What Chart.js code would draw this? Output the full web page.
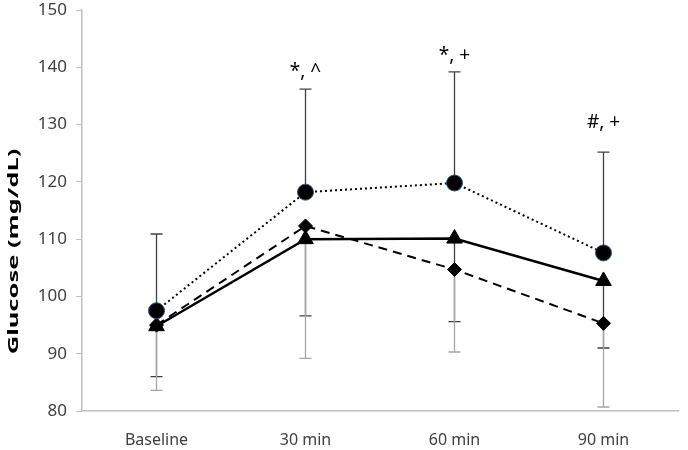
<!doctype html>
<html lang="en">
<head>
  <meta charset="utf-8">
  <title>Glucose</title>
  <script src="https://cdn.jsdelivr.net/npm/chart.js"></script>
  <style>
    html, body { margin: 0; padding: 0; background: #fff; }
    #wrap { width: 688px; height: 450px; }
  </style>
</head>
<body>
<div id="wrap"><canvas id="myChart" width="688" height="450"></canvas></div>
<script>
// datos
const categorias = ['Baseline', '30 min', '60 min', '90 min'];
const circulos = [97.5, 118.2, 119.8, 107.6];
const triangulos = [94.8, 110.0, 110.1, 102.7];
const rombos = [95.0, 112.3, 104.7, 95.3];
// desviaciones (barras de error)
const errCirculos = [13.4, 18.0, 19.4, 17.6];   // hacia arriba
const errTriangulos = [8.8, 13.4, 14.5, 11.7];  // hacia abajo
const errRombos = [11.4, 23.1, 14.4, 14.6];     // hacia abajo
// anotaciones
const notas = ['', '*, ^', '*, +', '#, +'];
const notasY = [null, 139.2, 142.1, 130.4];
const ticksY = [80, 90, 100, 110, 120, 130, 140, 150];
const tituloY = 'Glucose (mg/dL)';

const fuente = '"Noto Sans", "Open Sans", sans-serif';

const barrasError = {
  id: 'barrasError',
  beforeDatasetsDraw(chart) {
    const { ctx, scales: { x, y } } = chart;
    const dibujar = (medias, errs, signo, color) => {
      ctx.save();
      ctx.strokeStyle = color;
      ctx.lineWidth = 1.3;
      medias.forEach((m, i) => {
        const px = x.getPixelForValue(i);
        const y0 = y.getPixelForValue(m);
        const y1 = y.getPixelForValue(m + signo * errs[i]);
        ctx.beginPath();
        ctx.moveTo(px, y0);
        ctx.lineTo(px, y1);
        ctx.moveTo(px - 6, y1);
        ctx.lineTo(px + 6, y1);
        ctx.stroke();
      });
      ctx.restore();
    };
    dibujar(circulos, errCirculos, 1, '#404040');
    dibujar(triangulos, errTriangulos, -1, '#404040');
    dibujar(rombos, errRombos, -1, '#a6a6a6');
  },
  afterDatasetsDraw(chart) {
    const { ctx, scales: { x, y } } = chart;
    ctx.save();
    ctx.fillStyle = '#000';
    ctx.font = '19px ' + fuente;
    ctx.textAlign = 'center';
    ctx.textBaseline = 'middle';
    notas.forEach((t, i) => {
      if (!t) return;
      ctx.fillText(t, x.getPixelForValue(i), y.getPixelForValue(notasY[i]));
    });
    // titulo del eje Y (estirado como en el original)
    const yc = (chart.chartArea.top + chart.chartArea.bottom) / 2 + 41;
    ctx.translate(14, yc);
    ctx.rotate(-Math.PI / 2);
    ctx.scale(1.7, 1);
    ctx.font = 'bold 15px ' + fuente;
    ctx.fillText(tituloY, 0, 0);
    ctx.restore();
  }
};

const ctx = document.getElementById('myChart').getContext('2d');
const myChart = new Chart(ctx, {
  type: 'line',
  data: {
    labels: categorias,
    datasets: [{
      data: circulos,
      borderColor: '#000',
      borderWidth: 2,
      borderDash: [2, 3],
      pointStyle: 'circle',
      pointRadius: 8,
      pointBackgroundColor: '#000',
      pointBorderColor: '#2e5a87',
      pointBorderWidth: 1
    }, {
      data: triangulos,
      borderColor: '#000',
      borderWidth: 2.5,
      pointStyle: 'triangle',
      pointRadius: 9,
      pointBackgroundColor: '#000',
      pointBorderColor: '#000',
      pointBorderWidth: 1
    }, {
      data: rombos,
      borderColor: '#000',
      borderWidth: 2,
      borderDash: [9, 6],
      pointStyle: 'rectRot',
      pointRadius: 7,
      pointBackgroundColor: '#000',
      pointBorderColor: '#000',
      pointBorderWidth: 1
    }]
  },
  options: {
    responsive: false,
    animation: false,
    layout: { padding: { top: 9, right: 6, left: 0, bottom: 0 } },
    plugins: { legend: { display: false }, tooltip: { enabled: false } },
    scales: {
      x: {
        offset: true,
        grid: { display: false, drawTicks: false },
        border: { color: '#bfbfbf', width: 1.5 },
        ticks: { color: '#404040', font: { family: fuente, size: 16 }, padding: 20 },
        afterFit(s) { s.height = 39; }
      },
      y: {
        min: 80,
        max: 150,
        afterBuildTicks(s) { s.ticks = ticksY.map(v => ({ value: v })); },
        grid: { display: true, drawOnChartArea: false, drawTicks: true, tickLength: 6, color: '#bfbfbf' },
        border: { color: '#bfbfbf', width: 1.5 },
        ticks: { color: '#404040', font: { family: fuente, size: 17 }, padding: 9 },
        afterFit(s) { s.width = 82; s.paddingTop = 0; s.paddingBottom = 0; }
      }
    }
  },
  plugins: [barrasError]
});
</script>
</body>
</html>
